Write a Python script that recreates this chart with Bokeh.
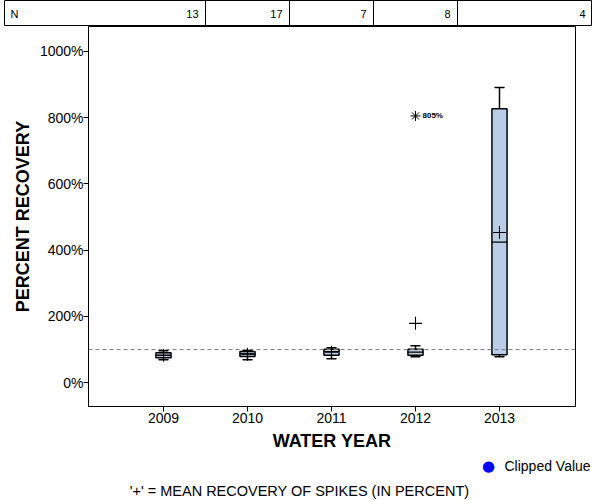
from bokeh.plotting import figure
from bokeh.layouts import column
from bokeh.models import (ColumnDataSource, Span, Label, Legend, LegendItem,
                          FixedTicker, PrintfTickFormatter, Range1d)
from bokeh.core.properties import value
from bokeh.embed import file_html
from bokeh.resources import INLINE

# ---------------- data ----------------
years = [2009, 2010, 2011, 2012, 2013]
n_counts = [13, 17, 7, 8, 4]
whisker_low = [69, 69, 72, 78, 78]
q1 = [75, 79, 83, 83, 84]
median = [82, 87, 94, 92, 424]
q3 = [90, 94, 101, 101, 827]
whisker_high = [96, 97, 105, 111, 891]
means = [83, 86, 92, 179, 453]
outlier_year = [2012]
outlier_value = [805]
clipped_year = []
clipped_value = []
reference_level = 100
y_ticks = [0, 200, 400, 600, 800, 1000]

FONT = "Liberation Sans"
BOX_W = 0.18
CAP_W = 0.11
CLIP_COLOR = "blue"

# ---------------- N table ----------------
tx_start, tx_end = 2007.107, 2014.107
t = figure(width=588, height=26, x_range=Range1d(tx_start, tx_end), y_range=Range1d(0, 1),
           toolbar_location=None, output_backend="svg", min_border=0,
           x_axis_location=None, y_axis_location=None, frame_align=False)
t.grid.visible = False
t.outline_line_color = "black"
t.outline_line_width = 1
bounds = [y + 0.5 for y in years[:-1]]
t.segment(x0=bounds, y0=[0] * len(bounds), x1=bounds, y1=[1] * len(bounds),
          line_color="black", line_width=1)
right_edges = bounds + [tx_end]
t.text(x=right_edges, y=[0.5] * len(right_edges), text=[str(v) for v in n_counts],
       text_align="right", text_baseline="middle", x_offset=-7,
       text_font=value(FONT), text_font_size="11px", text_color="black")
t.add_layout(Label(x=6, y=13, x_units="screen", y_units="screen", text="N",
                   text_font=FONT, text_font_size="11px", text_baseline="middle",
                   text_color="black"))

# ---------------- main plot ----------------
p = figure(width=588, height=428, x_range=Range1d(2008.107, 2013.905),
           y_range=Range1d(-72, 1075), toolbar_location=None, output_backend="svg",
           min_border_left=84, min_border_right=17, min_border_top=0, min_border_bottom=48,
           frame_align=False)
p.grid.visible = False
p.outline_line_color = "black"
p.outline_line_width = 1
p.background_fill_color = "white"

src = ColumnDataSource(dict(x=years, lo=whisker_low, q1=q1, med=median, q3=q3,
                            hi=whisker_high, mean=means))

p.add_layout(Span(location=reference_level, dimension="width", line_color="#808080",
                  line_dash="4 3", line_width=1))

# whiskers
p.segment(x0="x", y0="q3", x1="x", y1="hi", source=src, line_color="black", line_width=1.5)
p.segment(x0="x", y0="lo", x1="x", y1="q1", source=src, line_color="black", line_width=1.5)
# caps
p.rect(x="x", y="hi", width=CAP_W, height=0.01, source=src, line_color="black",
       line_width=1.5, fill_alpha=0)
p.rect(x="x", y="lo", width=CAP_W, height=0.01, source=src, line_color="black",
       line_width=1.5, fill_alpha=0)
# boxes
p.vbar(x="x", bottom="q1", top="q3", width=BOX_W, source=src, fill_color="#b9cee6",
       line_color="black", line_width=1.5)
# median
p.rect(x="x", y="med", width=BOX_W, height=0.01, source=src, line_color="black",
       line_width=1.2, fill_alpha=0)
# means
p.scatter(x="x", y="mean", source=src, marker="cross", size=13, line_color="black",
          line_width=1.1)
# outliers
p.scatter(x=outlier_year, y=outlier_value, marker="asterisk", size=10,
          line_color="black", line_width=1)
p.text(x=outlier_year, y=outlier_value, text=[f"{v}%" for v in outlier_value],
       x_offset=7, text_baseline="middle", text_font=value(FONT), text_font_size="8px",
       text_font_style="bold", text_color="black")
# clipped values (none in this chart)
p.scatter(x=clipped_year, y=clipped_value, marker="circle", size=9,
          fill_color=CLIP_COLOR, line_color=CLIP_COLOR)

# axes
p.xaxis.ticker = FixedTicker(ticks=years)
p.yaxis.ticker = FixedTicker(ticks=y_ticks)
p.yaxis.formatter = PrintfTickFormatter(format="%d%%")
for ax in (p.xaxis[0], p.yaxis[0]):
    ax.major_tick_out = 5
    ax.major_tick_in = 0
    ax.minor_tick_line_color = None
    ax.axis_line_color = "black"
    ax.major_tick_line_color = "black"
    ax.major_label_text_font = FONT
    ax.major_label_text_font_size = "14px"
    ax.major_label_text_color = "black"
    ax.axis_label_text_font = FONT
    ax.axis_label_text_font_size = "18px"
    ax.axis_label_text_font_style = "bold"
    ax.axis_label_text_color = "black"
p.xaxis.axis_label = "WATER YEAR"
p.yaxis.axis_label = "PERCENT RECOVERY"
p.xaxis.major_label_standoff = 1
p.yaxis.major_label_standoff = 0
p.xaxis.axis_label_standoff = 5
p.yaxis.axis_label_standoff = 4

# ---------------- bottom: legend key + footnote ----------------
b = figure(width=588, height=46, x_range=Range1d(tx_start, tx_end), y_range=Range1d(0, 1),
           toolbar_location=None, output_backend="svg", min_border=0,
           x_axis_location=None, y_axis_location=None, frame_align=False)
b.grid.visible = False
b.outline_line_color = None

b.add_layout(Label(x=484, y=35, x_units="screen", y_units="screen", text="\u25cf",
                   text_font="DejaVu Sans", text_font_size="15px", text_align="center",
                   text_baseline="middle", text_color=CLIP_COLOR))
b.add_layout(Label(x=500, y=35, x_units="screen", y_units="screen", text="Clipped Value",
                   text_font=FONT, text_font_size="14px", text_align="left",
                   text_baseline="middle", text_color="black"))
b.add_layout(Label(x=295, y=10, x_units="screen", y_units="screen",
                   text="'+' = MEAN RECOVERY OF SPIKES (IN PERCENT)", text_font=FONT,
                   text_font_size="14.5px", text_align="center", text_baseline="middle",
                   text_color="black"))

layout = column(t, p, b, spacing=0, margin=(0, 0, 0, 4))

open("out.html", "w").write(file_html(layout, INLINE))
